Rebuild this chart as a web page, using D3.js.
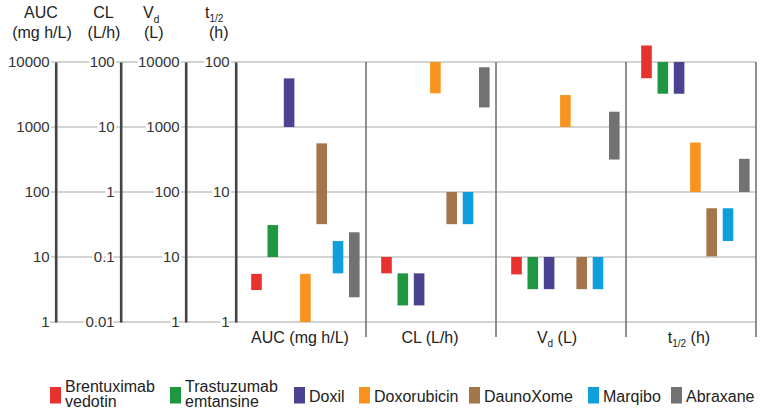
<!DOCTYPE html>
<html><head><meta charset="utf-8">
<script src="https://cdn.jsdelivr.net/npm/d3@7"></script>
<style>
html,body{margin:0;padding:0;background:#fff;}
svg{display:block;font-family:"Liberation Sans",Arial,sans-serif;}
</style></head>
<body><svg id="c" width="762" height="416"></svg>
<script>
// ---- data ----
const drugs = ["Brentuximab vedotin","Trastuzumab emtansine","Doxil","Doxorubicin","DaunoXome","Marqibo","Abraxane"];
const colors = ["#e8322f","#1f9640","#4b438f","#f7931e","#a4744a","#0fa0dc","#727272"];
const aucRange = [[3.1,5.5],[10,31],[1000,5600],[1,5.5],[32,560],[5.6,17.6],[2.4,24]];
const clRange  = [[0.056,0.1],[0.018,0.056],[0.018,0.056],[33,100],[0.32,1],[0.32,1],[20,83]];
const vdRange  = [[5.4,10],[3.2,10],[3.2,10],[1000,3100],[3.2,10],[3.2,10],[316,1720]];
const tRange   = [[75,134],[57,100],[57,100],[10,24],[3.2,7.5],[4.2,7.5],[10,18]];
const aucTicks = [1,10,100,1000,10000];
const clTicks  = [0.01,0.1,1,10,100];
const vdTicks  = [1,10,100,1000,10000];
const tTicks   = [1,10,100];
const aucTickLabels = ["1","10","100","1000","10000"];
const clTickLabels  = ["0.01","0.1","1","10","100"];
const vdTickLabels  = ["1","10","100","1000","10000"];
const tTickLabels   = ["1","10","100"];

// ---- layout ----
const plotTop = 62, plotBottom = 322, panelW = 130, panel0 = 236;
const svg = d3.select("#c");
const yAUC = d3.scaleLog().domain([1,10000]).range([plotBottom,plotTop]);
const yCL  = d3.scaleLog().domain([0.01,100]).range([plotBottom,plotTop]);
const yVd  = d3.scaleLog().domain([1,10000]).range([plotBottom,plotTop]);
const yT   = d3.scaleLog().domain([1,100]).range([plotBottom,plotTop]);

// gridlines (AUC decades)
svg.append("g").selectAll("line").data(aucTicks).join("line")
  .attr("x1",50).attr("x2",panel0+4*panelW)
  .attr("y1",d=>yAUC(d)).attr("y2",d=>yAUC(d))
  .attr("stroke","#c4c4c4").attr("stroke-width",1.5);

// left axes
const axes = [
  {x:55.7, s:yAUC, t:aucTicks, l:aucTickLabels},
  {x:120.7, s:yCL, t:clTicks, l:clTickLabels},
  {x:185.7, s:yVd, t:vdTicks, l:vdTickLabels},
  {x:235.7, s:yT, t:tTicks, l:tTickLabels}
];
axes.forEach(a=>{
  const g = svg.append("g").attr("transform",`translate(${a.x},0)`)
    .call(d3.axisLeft(a.s).tickValues(a.t).tickFormat((d,i)=>a.l[i]).tickSize(0).tickSizeOuter(0).tickPadding(6));
  g.select(".domain").attr("stroke","#444").attr("stroke-width",2.6);
  g.selectAll("text").attr("font-size",15).attr("fill","#333")
    .attr("font-family","Liberation Sans, Arial, sans-serif")
    .attr("stroke","#fff").attr("stroke-width",4).attr("paint-order","stroke");
});

// panel dividers
svg.append("g").selectAll("line").data([1,2,3,4]).join("line")
  .attr("x1",d=>panel0+d*panelW).attr("x2",d=>panel0+d*panelW)
  .attr("y1",plotTop).attr("y2",337)
  .attr("stroke","#6a6a6a").attr("stroke-width",1.5);

// bars
const xIn = d3.scalePoint().domain(drugs).range([20.5,118.3]);
const barW = 10.6;
const panels = [
  {r:aucRange, s:yAUC},
  {r:clRange, s:yCL},
  {r:vdRange, s:yVd},
  {r:tRange, s:yT}
];
panels.forEach((p,pi)=>{
  const x0 = panel0 + pi*panelW;
  svg.append("g").selectAll("rect").data(drugs.map((d,i)=>({d,i,v:p.r[i]}))).join("rect")
    .attr("x",d=>x0+xIn(d.d)-barW/2).attr("width",barW)
    .attr("y",d=>p.s(d.v[1])).attr("height",d=>p.s(d.v[0])-p.s(d.v[1]))
    .attr("fill",d=>colors[d.i]);
});

// panel labels
const pl = svg.append("g").attr("font-size",16).attr("fill","#222").attr("text-anchor","middle");
pl.append("text").attr("x",300).attr("y",343).text("AUC (mg h/L)");
pl.append("text").attr("x",430).attr("y",343).text("CL (L/h)");
let t = pl.append("text").attr("x",557).attr("y",343);
t.append("tspan").text("V");
t.append("tspan").attr("font-size",10).attr("dy",4).text("d");
t.append("tspan").attr("dy",-4).text(" (L)");
t = pl.append("text").attr("x",689).attr("y",343);
t.append("tspan").text("t");
t.append("tspan").attr("font-size",10).attr("dy",4).text("1/2");
t.append("tspan").attr("dy",-4).text(" (h)");

// headers
const hd = svg.append("g").attr("font-size",16).attr("fill","#222");
hd.append("text").attr("x",41).attr("y",18).attr("text-anchor","middle").text("AUC");
hd.append("text").attr("x",42).attr("y",38).attr("text-anchor","middle").text("(mg h/L)");
hd.append("text").attr("x",103.5).attr("y",18).attr("text-anchor","middle").text("CL");
hd.append("text").attr("x",104).attr("y",38).attr("text-anchor","middle").text("(L/h)");
t = hd.append("text").attr("x",143).attr("y",18);
t.append("tspan").text("V");
t.append("tspan").attr("font-size",10).attr("dy",5).text("d");
hd.append("text").attr("x",144).attr("y",38).text("(L)");
t = hd.append("text").attr("x",205).attr("y",18);
t.append("tspan").text("t");
t.append("tspan").attr("font-size",10).attr("dy",4).text("1/2");
hd.append("text").attr("x",209).attr("y",38).text("(h)");

// legend
const legendX = [50,170,294,359,469,588,671];
const lg = svg.append("g").attr("font-size",16).attr("fill","#222");
drugs.forEach((d,i)=>{
  lg.append("rect").attr("x",legendX[i]).attr("y",387).attr("width",11).attr("height",16.5).attr("fill",colors[i]);
  const words = d.split(" ");
  const tx = lg.append("text").attr("x",legendX[i]+15);
  if (words.length>1){
    tx.append("tspan").attr("x",legendX[i]+15).attr("y",392).text(words[0]);
    tx.append("tspan").attr("x",legendX[i]+15).attr("y",407).text(words[1]);
  } else {
    tx.attr("y",401.5).text(d);
  }
});
</script></body></html>
